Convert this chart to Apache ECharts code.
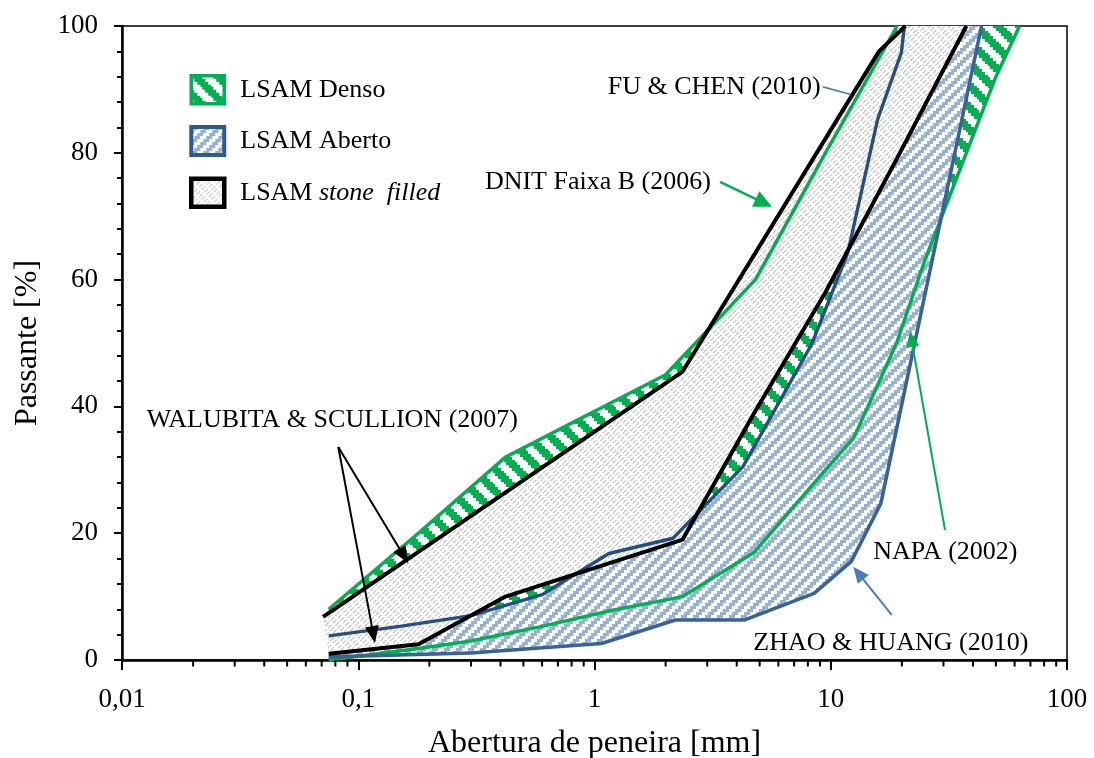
<!DOCTYPE html>
<html>
<head>
<meta charset="utf-8">
<script src="https://cdn.jsdelivr.net/npm/echarts/dist/echarts.min.js"></script>
<style>
  html, body { margin: 0; padding: 0; background: #ffffff; }
  #chart { width: 1094px; height: 758px; }
</style>
</head>
<body>
<div id="chart"></div>
<script>
// ---- Gradation limits: sieve opening [mm] and percent passing [%] ----
// LSAM Denso: DNIT Faixa B (2006) upper limit and NAPA (2002) lower limit
const dnitUpperMm   = [0.075, 0.18, 0.42, 2.0, 4.8, 9.5, 19.1];
const dnitUpperPct  = [8, 20, 32, 45, 60, 80, 100];
const napaLowerMm   = [0.075, 0.18, 0.3, 0.6, 1.18, 2.36, 4.75, 9.5, 12.5, 19, 25, 37.5, 50, 63];
const napaLowerPct  = [0, 1.8, 3, 5.3, 7.8, 10, 17, 30, 35, 50, 63, 80, 92, 100];
// LSAM Aberto: upper limit and ZHAO & HUANG (2010) lower limit
const abertoUpperMm  = [0.075, 0.15, 0.3, 0.6, 1.15, 2.15, 4.25, 8.3, 11.8, 15.8, 19.9, 20.5];
const abertoUpperPct = [3.8, 5.3, 7, 10.3, 16.8, 19.2, 30.5, 49.8, 64.2, 85.3, 95.8, 100];
const abertoLowerMm  = [0.075, 0.3, 1.07, 2.2, 4.3, 8.5, 12.2, 16.3, 43.5];
const abertoLowerPct = [0.5, 1.1, 2.6, 6.3, 6.3, 10.5, 15.5, 24.7, 100];
// LSAM stone filled: WALUBITA & SCULLION (2007)
const stoneUpperMm  = [0.071, 2.36, 16, 20.7];
const stoneUpperPct = [6.8, 45.5, 96, 100];
const stoneLowerMm  = [0.075, 0.18, 0.42, 2.36, 4.75, 9.5, 19, 37.5];
const stoneLowerPct = [1, 2.5, 10, 19, 39, 58, 79, 100];

// Axis ticks
const xTickLabels = ['0,01', '0,1', '1', '10', '100'];
const xMinorTicksMm = [0.02, 0.03, 0.04, 0.05, 0.06, 0.07, 0.08, 0.09,
                       0.2, 0.3, 0.4, 0.5, 0.6, 0.7, 0.8, 0.9,
                       2, 3, 4, 5, 6, 7, 8, 9,
                       20, 30, 40, 50, 60, 70, 80, 90];

const FONT = "'Liberation Serif', 'Times New Roman', serif";
const GREEN = '#00b050';
const BLUE_UP = '#254e82';
const BLUE_LO = '#3a6393';
const ARROW_BLUE = '#4a7ebb';

// ---- Hatch patterns (pixel tiles); ink(x, y) returns an RGB triple or null ----
function hatch(size, ink) {
  const cv = document.createElement('canvas');
  cv.width = size; cv.height = size;
  const ctx = cv.getContext('2d');
  const img = ctx.createImageData(size, size);
  for (let y = 0; y < size; y++) {
    for (let x = 0; x < size; x++) {
      const k = (y * size + x) * 4;
      const c = ink(x, y) || [255, 255, 255];
      img.data[k] = c[0]; img.data[k + 1] = c[1]; img.data[k + 2] = c[2];
      img.data[k + 3] = 255;
    }
  }
  ctx.putImageData(img, 0, 0);
  return { image: cv, repeat: 'repeat' };
}
// wide downward diagonal, green
const denseFill = hatch(22, (x, y) =>
  ((((Math.floor(x / 2.75) - Math.floor(y / 2.75)) % 8) + 8) % 8 < 4) ? [0, 176, 80] : null);
// dark upward diagonal, light blue
const openFill = hatch(12, (x, y) =>
  (((Math.floor(x / 3) + Math.floor(y / 3)) % 4) < 2) ? [149, 179, 215] : null);
// light upward diagonal, grey, drawn as short dashes
const stoneFill = hatch(10, (x, y) => {
  if ((x + y) % 5 !== 0 && (x + y) % 5 !== 1) return null;
  if (((x - y + 20) % 10) >= 7) return null;
  return (x + y) % 5 === 0 ? [196, 196, 196] : [226, 226, 226];
});

function zip(xs, ys) { return xs.map((v, i) => [v, ys[i]]); }

// Band between an upper and a lower limit curve, drawn as one polygon
function band(name, upX, upY, loX, loY, fill, z) {
  const poly = zip(upX, upY).concat(zip(loX, loY).reverse());
  return {
    type: 'custom', name: name, data: poly, z: z, silent: true, clip: true,
    itemStyle: { color: fill },
    renderItem: function (params, api) {
      if (params.dataIndex !== 0) return null;
      return {
        type: 'polygon',
        shape: { points: poly.map(p => api.coord(p)) },
        style: { fill: fill, stroke: null }
      };
    }
  };
}

function curve(name, xs, ys, color, width, z) {
  return {
    type: 'line', name: name, data: zip(xs, ys), z: z, silent: true,
    symbol: 'none', smooth: false, clip: true,
    lineStyle: { color: color, width: width, cap: 'butt', join: 'round' }
  };
}

const chart = echarts.init(document.getElementById('chart'), null, { renderer: 'canvas' });

const option = {
  animation: false,
  backgroundColor: '#ffffff',
  grid: {
    left: 122, top: 26, width: 945, height: 634,
    show: true, borderColor: '#000', borderWidth: 1.5,
    containLabel: false, outerBoundsMode: 'none'
  },
  legend: {
    orient: 'vertical', left: 189, top: 74, padding: 0,
    itemWidth: 33, itemHeight: 28, itemGap: 19.5,
    icon: 'rect', selectedMode: false,
    data: [
      { name: 'LSAM Denso', itemStyle: { color: denseFill, borderColor: GREEN, borderWidth: 3.5 } },
      { name: 'LSAM Aberto', itemStyle: { color: openFill, borderColor: '#2f5a8f', borderWidth: 4 } },
      { name: 'LSAM stone filled', itemStyle: { color: stoneFill, borderColor: '#000', borderWidth: 4.5 } }
    ],
    formatter: function (name) {
      if (name === 'LSAM stone filled') return '{s|}{n|LSAM }{i|stone  filled}';
      return '{s|}{n|' + name + '}';
    },
    textStyle: {
      fontFamily: FONT, fontSize: 26, color: '#000',
      rich: {
        s: { width: 11 },
        n: { fontFamily: FONT, fontSize: 26, color: '#000' },
        i: { fontFamily: FONT, fontSize: 26, color: '#000', fontStyle: 'italic' }
      }
    }
  },
  xAxis: {
    type: 'log', logBase: 10, min: 0.01, max: 100,
    name: 'Abertura de peneira [mm]', nameLocation: 'middle', nameGap: 68,
    nameTextStyle: { fontFamily: FONT, fontSize: 32, color: '#000' },
    axisLine: { show: true, onZero: false, lineStyle: { color: '#000', width: 2.5 } },
    axisTick: { show: true, inside: false, length: 10, lineStyle: { color: '#000', width: 2 } },
    splitLine: { show: false },
    axisLabel: {
      margin: 26, fontFamily: FONT, fontSize: 27, color: '#000',
      showMinLabel: true, showMaxLabel: true,
      formatter: function (v) { return xTickLabels[Math.round(Math.log10(v)) + 2]; }
    }
  },
  yAxis: {
    type: 'value', min: 0, max: 100, interval: 20,
    name: 'Passante [%]', nameLocation: 'middle', nameGap: 78,
    nameTextStyle: { fontFamily: FONT, fontSize: 32, color: '#000' },
    axisLine: { show: true, onZero: false, lineStyle: { color: '#000', width: 2.5 } },
    axisTick: { show: true, inside: false, length: 8, lineStyle: { color: '#000', width: 2 } },
    minorTick: { show: true, splitNumber: 5, length: 5, lineStyle: { color: '#000', width: 2 } },
    splitLine: { show: false },
    minorSplitLine: { show: false },
    axisLabel: { margin: 24, fontFamily: FONT, fontSize: 27, color: '#000' }
  },
  series: [
    band('LSAM Denso', dnitUpperMm, dnitUpperPct, napaLowerMm, napaLowerPct, denseFill, 1),
    band('LSAM Aberto', abertoUpperMm, abertoUpperPct, abertoLowerMm, abertoLowerPct, openFill, 2),
    band('LSAM stone filled', stoneUpperMm, stoneUpperPct, stoneLowerMm, stoneLowerPct, stoneFill, 3),
    curve('DNIT Faixa B (2006)', dnitUpperMm, dnitUpperPct, GREEN, 3.5, 4),
    curve('NAPA (2002)', napaLowerMm, napaLowerPct, GREEN, 3.5, 4),
    curve('Aberto sup.', abertoUpperMm, abertoUpperPct, BLUE_UP, 3.4, 5),
    curve('ZHAO & HUANG (2010)', abertoLowerMm, abertoLowerPct, BLUE_LO, 3.6, 5),
    curve('Stone filled sup.', stoneUpperMm, stoneUpperPct, '#000', 4, 6),
    curve('Stone filled inf.', stoneLowerMm, stoneLowerPct, '#000', 4, 6),
    {
      // minor ticks of the logarithmic x axis (2..9 of each decade)
      type: 'custom', name: 'xMinorTicks', silent: true, clip: false, z: 10,
      data: xMinorTicksMm.map(v => [v, 0]),
      renderItem: function (params, api) {
        const p = api.coord([api.value(0), 0]);
        return {
          type: 'line',
          shape: { x1: p[0], y1: p[1], x2: p[0], y2: p[1] + 6.5 },
          style: { stroke: '#000', lineWidth: 2 }
        };
      }
    }
  ]
};
chart.setOption(option);

// ---- Annotations, anchored in data coordinates ----
const annotations = [
  { text: 'FU & CHEN (2010)', at: [9.07, 90.4], align: 'right',
    lines: [{ from: [9.27, 90.4], to: [12.18, 89.2], color: ARROW_BLUE, width: 1.6, head: null }] },
  { text: 'DNIT Faixa B (2006)', at: [3.11, 75.4], align: 'right',
    lines: [{ from: [3.40, 75.4], to: [5.64, 71.5], color: GREEN, width: 2.5, head: [18, 8.5] }] },
  { text: 'WALUBITA & SCULLION (2007)', at: [0.01272, 37.85], align: 'left',
    lines: [
      { from: [0.0823, 33.6], to: [0.1629, 15.25], color: '#000', width: 2, head: [17, 7] },
      { from: [0.0823, 33.6], to: [0.1177, 2.7], color: '#000', width: 2, head: [17, 7] }
    ] },
  { text: 'NAPA (2002)', at: [15.14, 17.08], align: 'left',
    lines: [{ from: [30.45, 20.5], to: [21.65, 51.9], color: GREEN, width: 2, head: [16, 6.5] }] },
  { text: 'ZHAO & HUANG (2010)', at: [4.70, 2.63], align: 'left',
    lines: [{ from: [18.11, 7.1], to: [12.46, 14.7], color: ARROW_BLUE, width: 2, head: [16, 7] }] }
];

const toPx = v => chart.convertToPixel({ gridIndex: 0 }, v);
const graphics = [];
annotations.forEach(a => {
  const p = toPx(a.at);
  graphics.push({
    type: 'text', x: p[0], y: p[1], z: 100, silent: true,
    style: { text: a.text, font: '26px ' + FONT, fill: '#000', align: a.align, verticalAlign: 'middle' }
  });
  a.lines.forEach(l => {
    const s = toPx(l.from), e = toPx(l.to);
    let end = e;
    if (l.head) {
      const dx = e[0] - s[0], dy = e[1] - s[1];
      const len = Math.hypot(dx, dy), ux = dx / len, uy = dy / len;
      const bx = e[0] - ux * l.head[0], by = e[1] - uy * l.head[0];
      end = [bx + ux * 2, by + uy * 2];
      graphics.push({
        type: 'polygon', z: 101, silent: true,
        shape: { points: [e, [bx - uy * l.head[1], by + ux * l.head[1]], [bx + uy * l.head[1], by - ux * l.head[1]]] },
        style: { fill: l.color }
      });
    }
    graphics.push({
      type: 'line', z: 100, silent: true,
      shape: { x1: s[0], y1: s[1], x2: end[0], y2: end[1] },
      style: { stroke: l.color, lineWidth: l.width }
    });
  });
});
chart.setOption({ graphic: graphics });
</script>
</body>
</html>
